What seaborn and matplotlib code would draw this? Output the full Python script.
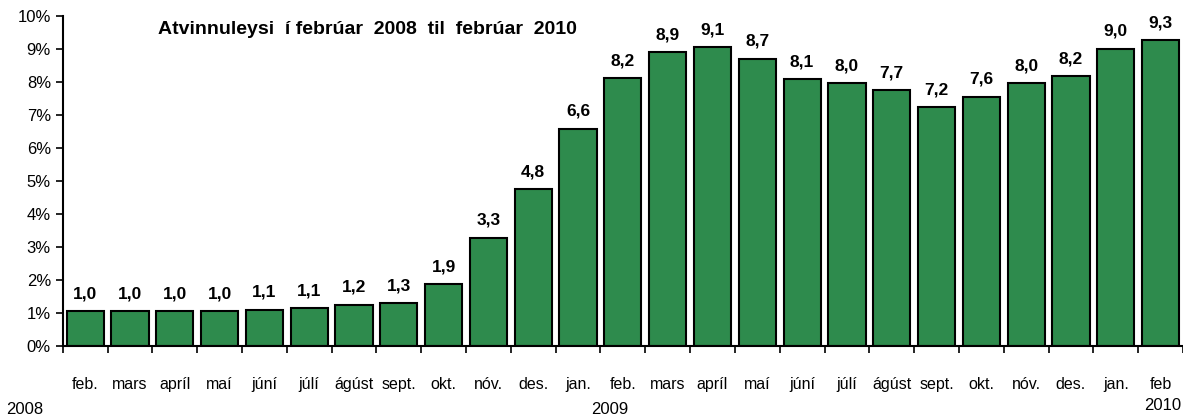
import numpy as np
import pandas as pd
import matplotlib
matplotlib.use("Agg")
import matplotlib.pyplot as plt
import seaborn as sns
from matplotlib.ticker import FixedLocator

# data
months = ["feb.", "mars", "apríl", "maí", "júní", "júlí", "ágúst", "sept.", "okt.",
          "nóv.", "des.", "jan.", "feb.", "mars", "apríl", "maí", "júní", "júlí",
          "ágúst", "sept.", "okt.", "nóv.", "des.", "jan.", "feb"]
rate = [1.05, 1.05, 1.05, 1.05, 1.1, 1.15, 1.25, 1.3, 1.88, 3.28, 4.75, 6.58, 8.12,
        8.9, 9.06, 8.7, 8.08, 7.97, 7.75, 7.24, 7.55, 7.97, 8.18, 9.0, 9.27]
labels = ["1,0", "1,0", "1,0", "1,0", "1,1", "1,1", "1,2", "1,3", "1,9", "3,3", "4,8",
          "6,6", "8,2", "8,9", "9,1", "8,7", "8,1", "8,0", "7,7", "7,2", "7,6", "8,0",
          "8,2", "9,0", "9,3"]
years = ["2008", "2009", "2010"]

df = pd.DataFrame({"pos": range(len(months)), "rate": rate})

sns.set_style("white")
plt.rcParams['font.family'] = ['Liberation Sans', 'DejaVu Sans']
plt.rcParams['text.color'] = 'black'
plt.rcParams['xtick.color'] = 'black'
plt.rcParams['ytick.color'] = 'black'

fig = plt.figure(figsize=(11.83, 4.18), dpi=100)
ax = fig.add_axes([0.053, 0.172, 0.947, 0.79])

sns.barplot(data=df, x="pos", y="rate", color="#2e8b4d", saturation=1,
            edgecolor="black", linewidth=1.5, width=0.83, ax=ax)

for i, (h, t) in enumerate(zip(rate, labels)):
    ax.text(i, h + 0.3, t, ha="center", va="bottom", fontsize=12.5, fontweight="bold")

ax.set_xlim(-0.5, len(months) - 0.5)
ax.set_ylim(0, 10)
ax.set_yticks(range(0, 11))
ax.set_yticklabels([f"{v}%" for v in range(0, 11)], fontsize=12)
ax.set_xticks(range(len(months)))
ax.set_xticklabels(months, fontsize=11.5)
ax.tick_params(axis="x", which="major", length=0, pad=22)
ax.xaxis.set_minor_locator(FixedLocator(np.arange(-0.5, len(months), 1)))
ax.tick_params(axis="x", which="minor", length=5, width=1.2, direction="out", bottom=True)
ax.tick_params(axis="y", length=5, width=1.2, direction="out", left=True)
ax.set_xlabel("")
ax.set_ylabel("")

for s in ["top", "right"]:
    ax.spines[s].set_visible(False)
ax.spines["left"].set_linewidth(1.5)
ax.spines["bottom"].set_linewidth(1.5)
ax.spines["left"].set_color("black")
ax.spines["bottom"].set_color("black")

fig.text(158 / 1183, 1 - 30 / 418, "Atvinnuleysi  í febrúar  2008  til  febrúar  2010",
         fontsize=14, fontweight="bold", va="center", ha="left")

fig.text(25 / 1183, 1 - 410 / 418, years[0], fontsize=12, ha="center", va="center")
fig.text(610 / 1183, 1 - 410 / 418, years[1], fontsize=12, ha="center", va="center")
fig.text(1163 / 1183, 1 - 406 / 418, years[2], fontsize=12, ha="center", va="center")

fig.savefig("out.png", dpi=100)
